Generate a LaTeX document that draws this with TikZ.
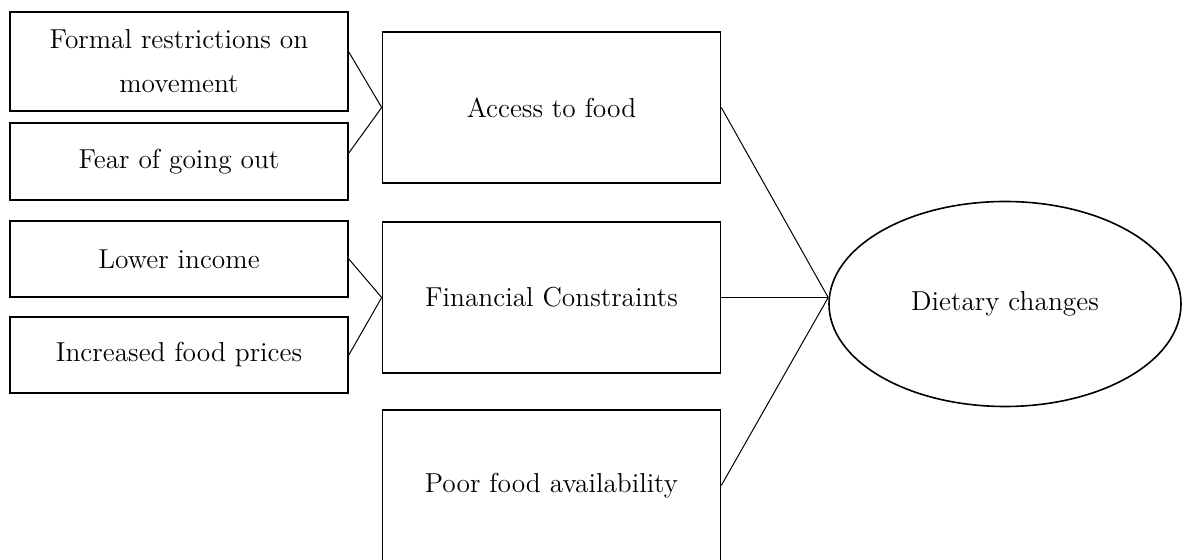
\documentclass[tikz,border=0pt]{standalone}
\usetikzlibrary{shapes.geometric}

\begin{document}
\begin{tikzpicture}[x=0.5pt,y=-0.5pt,
    every node/.style={font=\fontsize{13.7}{22}\selectfont},
    cause/.style={draw,line width=0.8pt,minimum width=169pt,inner sep=0pt,align=center},
    factor/.style={cause,minimum height=75.5pt},
    outcome/.style={draw,ellipse,line width=0.8pt,minimum width=176pt,minimum height=102.5pt,inner sep=0pt},
    link/.style={line width=0.5pt}
   ]
  \clip (0,0) rectangle (1184,560);
  \node[cause,minimum height=49.5pt] (formal) at (179,61.5) {Formal restrictions on\\movement};
  \node[cause,minimum height=38.5pt] (fear) at (179,161.5) {Fear of going out};
  \node[cause,minimum height=38pt] (income) at (179,259) {Lower income};
  \node[cause,minimum height=38pt] (prices) at (179,355) {Increased food prices};
  \node[factor] (access) at (551.5,107.5) {Access to food};
  \node[factor] (finance) at (551.5,297.5) {Financial Constraints};
  \node[factor] (avail) at (551.5,485.5) {Poor food availability};
  \node[outcome] (diet) at (1005,304) {Dietary changes};
  \coordinate (hub) at (finance.east -| diet.west);
  \draw[link] ([yshift=4.75pt]formal.east) -- (access.west);
  \draw[link] ([yshift=4.25pt]fear.east) -- (access.west);
  \foreach \src in {income,prices}
    \draw[link] (\src.east) -- (finance.west);
  \foreach \src in {access,finance,avail}
    \draw[link] (\src.east) -- (hub);
\end{tikzpicture}
\end{document}
